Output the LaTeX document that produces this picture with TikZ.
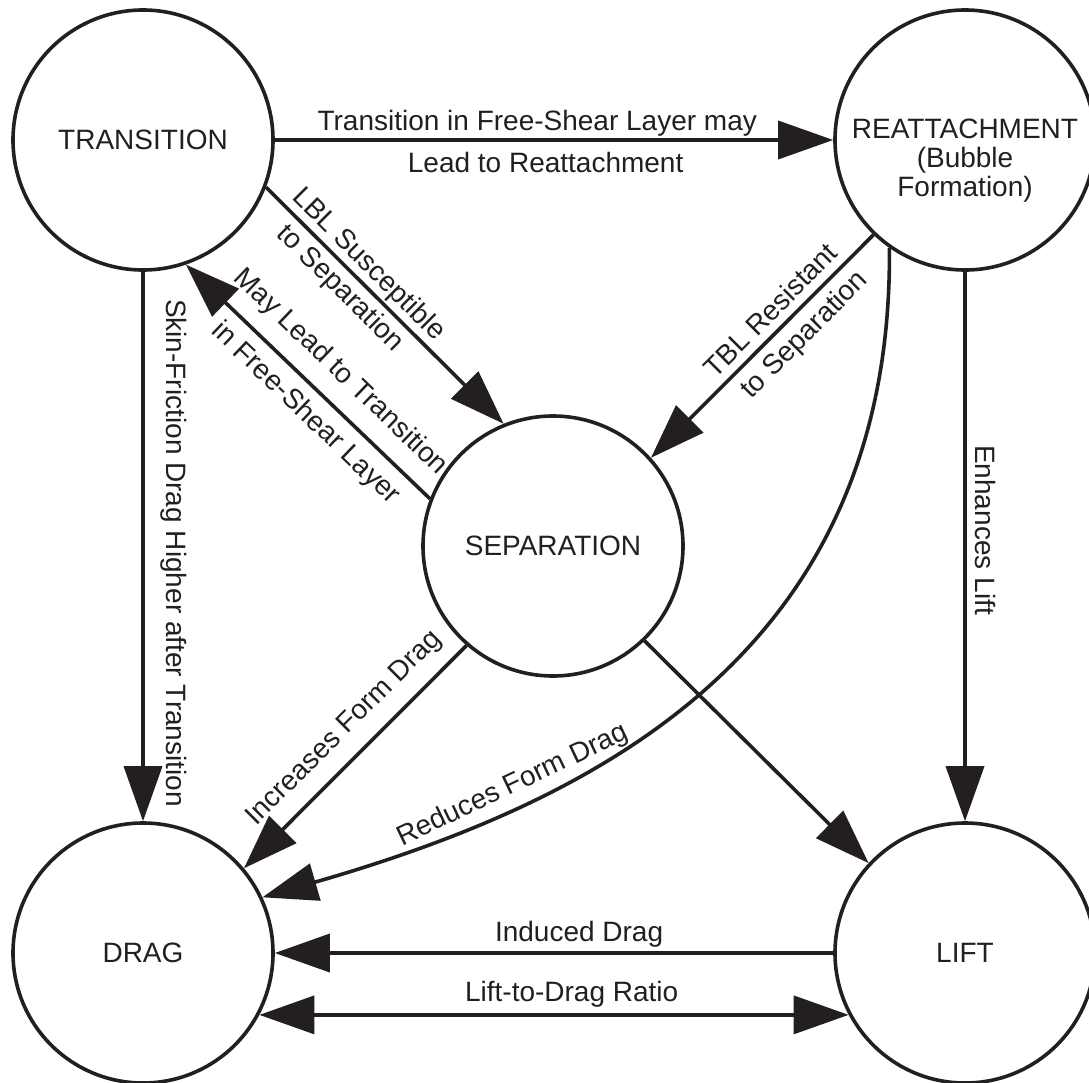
\documentclass[tikz,border=0pt]{standalone}
\usepackage{fontspec}
\setmainfont{Liberation Sans}
\usetikzlibrary{arrows.meta}
\definecolor{ink}{RGB}{35,31,32}
\begin{document}
\begin{tikzpicture}[x=1pt,y=-1pt,
  every node/.style={font=\fontsize{28}{29}\selectfont, text=ink},
  state/.style={circle, draw=ink, line width=3.6pt, minimum size=260pt, inner sep=0pt},
  conn/.style={draw=ink, line width=3.6pt, -{Triangle[length=55pt,width=38pt]}},
  dconn/.style={draw=ink, line width=3.6pt, {Triangle[length=55pt,width=38pt]}-{Triangle[length=55pt,width=38pt]}},
  labA/.style={sloped, anchor=south, text depth=0pt, inner xsep=0pt, inner ysep=#1, outer sep=0pt},
  labA/.default=11pt,
  labB/.style={sloped, anchor=north, text height=20pt, inner xsep=0pt, inner ysep=#1, outer sep=0pt},
  labB/.default=12pt,
  vlab/.style={rotate=-90, anchor=base, inner sep=0pt}
]
\useasboundingbox (0,0) rectangle (1089,1082);
\fill[white] (0,0) rectangle (1089,1082);

\node[state] (T) at (143,140) {TRANSITION};
\node[state] (R) at (965,140) {};
\node[align=center] (Rt) at (965,161) {REATTACHMENT\\(Bubble\\Formation)};
\node[state] (S) at (553,546) {SEPARATION};
\node[state] (D) at (143,953) {DRAG};
\node[state] (L) at (965,953) {LIFT};

\draw[conn] (T.east) -- (R.west)
  node[labA=10pt, pos=0.47] (l1) {Transition in Free-Shear Layer may}
  node[labB=12pt, pos=0.485] (l2) {Lead to Reattachment};

\draw[conn] (T.-21.5) -- (S.112.4)
  node[labA=10pt, pos=0.38] (l3) {LBL Susceptible}
  node[labB=7pt, pos=0.37] (l4) {to Separation};

\draw[conn] (S.159.5) -- (T.-71.7)
  node[labA=22pt, pos=0.45] (l5) {May Lead to Transition}
  node[labB=12pt, pos=0.44] (l6) {in Free-Shear Layer};

\draw[conn] (R.226.5) -- (S.42)
  node[labA=10pt, pos=0.40] (l7) {TBL Resistant}
  node[labB=10pt, pos=0.38] (l8) {to Separation};

\draw[conn] (R.235.7) .. controls (893,650) and (600,800) .. (D.25)
  node[labA=12pt, pos=0.73] (l9) {Reduces Form Drag};

\draw[conn] (T.south) -- (D.north);
\node[vlab] (l10) at (166,553) {Skin-Friction Drag Higher after Transition};

\draw[conn] (S.229) -- (D.40.7)
  node[labA=21pt, pos=0.46] (l11) {Increases Form Drag};

\draw[conn] (S.-46.8) -- (L.137);

\draw[conn] (R.south) -- (L.north);
\node[vlab] (l12) at (975,530) {Enhances Lift};

\draw[conn] (L.west) -- (D.east)
  node[labA=12pt, pos=0.455] (l13) {Induced Drag};

\draw[dconn] (D.-28.6) -- (L.208.6)
  node[labA=13pt, pos=0.53] (l14) {Lift-to-Drag Ratio};
\end{tikzpicture}
\end{document}
